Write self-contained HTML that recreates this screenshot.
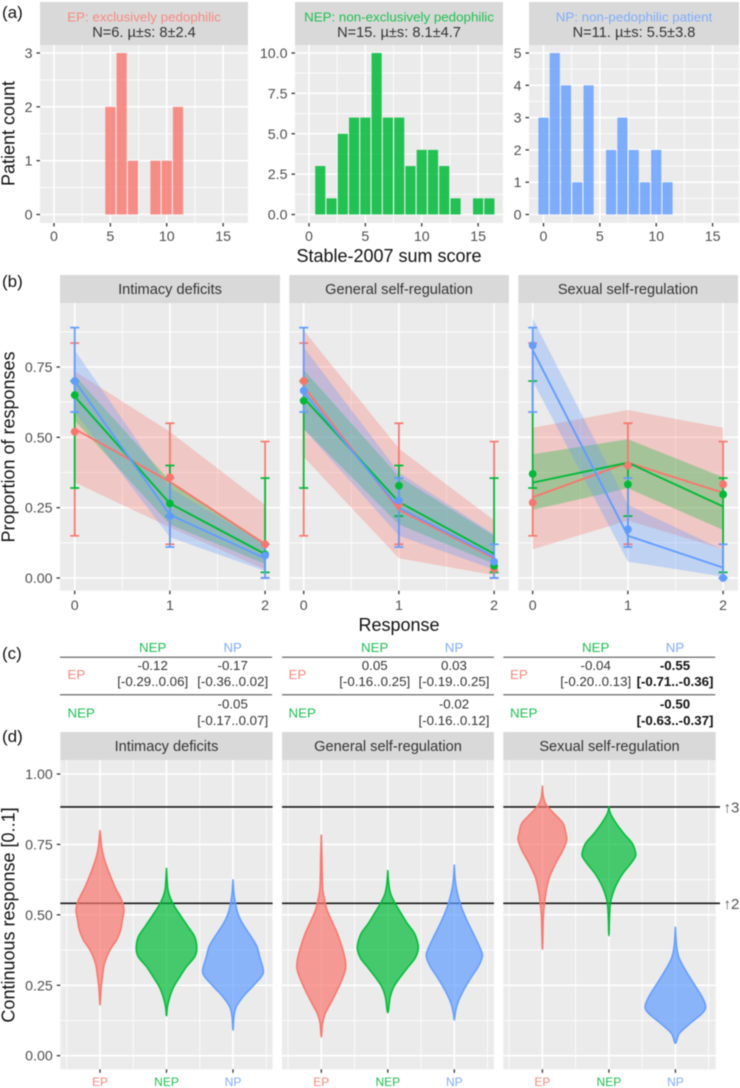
<!DOCTYPE html>
<html lang="en">
<head>
<meta charset="utf-8">
<title>Stable-2007 responses by patient group</title>
<style>
html,body{margin:0;padding:0;background:#fff;}
#figure{display:block;width:740px;height:1088px;filter:blur(.45px);font-family:"Liberation Sans",sans-serif;}
.lab{font-size:17px;fill:#111;}
.title{font-size:18px;fill:#111;}
.strip{fill:#D9D9D9;}
.st{font-size:14.6px;fill:#333;text-anchor:middle;}
.sc{font-size:13.35px;text-anchor:middle;}
.tb{font-size:13.3px;fill:#333;text-anchor:middle;}
.tbb{font-size:13.3px;fill:#111;font-weight:bold;text-anchor:middle;}
.gl{font-size:13.3px;}
.rule{stroke:#444;stroke-width:1;}
</style>
</head>
<body>
<svg id="figure" xmlns="http://www.w3.org/2000/svg" width="740" height="1088" viewBox="0 0 740 1088">
<rect width="740" height="1088" fill="#fff"/>

<text class="lab" x="2" y="18">(a)</text>
<text class="lab" x="2" y="287">(b)</text>
<text class="lab" x="2" y="659">(c)</text>
<text class="lab" x="2" y="742">(d)</text>

<rect class="strip" x="40" y="2" width="208" height="43"/>
<rect class="strip" x="295" y="2" width="208" height="43"/>
<rect class="strip" x="529" y="2" width="210" height="43"/>
<text class="sc" x="144" y="21.5" style="fill:#F98880">EP: exclusively pedophilic</text>
<text class="st" x="144" y="37">N=6. µ±s: 8±2.4</text>
<text class="sc" x="399" y="21.5" style="fill:#1EBF50">NEP: non-exclusively pedophilic</text>
<text class="st" x="399" y="37">N=15. µ±s: 8.1±4.7</text>
<text class="sc" x="634" y="21.5" style="fill:#7FADFC">NP: non-pedophilic patient</text>
<text class="st" x="634" y="37">N=11. µ±s: 5.5±3.8</text>

<rect class="strip" x="60" y="275" width="220" height="28"/>
<rect class="strip" x="289.3" y="275" width="219.7" height="28"/>
<rect class="strip" x="518.3" y="275" width="219.7" height="28"/>
<text class="st" x="170" y="294">Intimacy deficits</text>
<text class="st" x="399" y="294">General self-regulation</text>
<text class="st" x="628" y="294">Sexual self-regulation</text>

<rect class="strip" x="60.3" y="732" width="212.3" height="28"/>
<rect class="strip" x="282" y="732" width="212" height="28"/>
<rect class="strip" x="503.3" y="732" width="212.4" height="28"/>
<text class="st" x="166.5" y="751">Intimacy deficits</text>
<text class="st" x="388" y="751">General self-regulation</text>
<text class="st" x="609.5" y="751">Sexual self-regulation</text>

<g id="plots"></g>

<text class="title" x="389" y="262" text-anchor="middle">Stable-2007 sum score</text>
<text class="title" x="399" y="631" text-anchor="middle">Response</text>
<text class="title" transform="translate(14.5,133.5) rotate(-90)" text-anchor="middle">Patient count</text>
<text class="title" transform="translate(14.5,447) rotate(-90)" text-anchor="middle">Proportion of responses</text>
<text class="title" transform="translate(14.5,915) rotate(-90)" text-anchor="middle">Continuous response [0..1]</text>

<g>
<text class="gl" x="152.7" y="652" text-anchor="middle" fill="#1EBF50">NEP</text>
<text class="gl" x="232.7" y="652" text-anchor="middle" fill="#7FADFC">NP</text>
<line class="rule" x1="60" x2="272" y1="657.3" y2="657.3"/>
<line class="rule" x1="60" x2="272" y1="694.7" y2="694.7"/>
<text class="gl" x="67.5" y="679" fill="#F98880">EP</text>
<text class="gl" x="67.5" y="717.5" fill="#1EBF50">NEP</text>
<text class="tb" x="152.7" y="670">-0.12</text>
<text class="tb" x="152.7" y="686">[-0.29..0.06]</text>
<text class="tb" x="232.7" y="670">-0.17</text>
<text class="tb" x="232.7" y="686">[-0.36..0.02]</text>
<text class="tb" x="232.7" y="708.5">-0.05</text>
<text class="tb" x="232.7" y="725">[-0.17..0.07]</text>
</g>
<g>
<text class="gl" x="374.7" y="652" text-anchor="middle" fill="#1EBF50">NEP</text>
<text class="gl" x="454" y="652" text-anchor="middle" fill="#7FADFC">NP</text>
<line class="rule" x1="282" x2="494" y1="657.3" y2="657.3"/>
<line class="rule" x1="282" x2="494" y1="694.7" y2="694.7"/>
<text class="gl" x="288.5" y="679" fill="#F98880">EP</text>
<text class="gl" x="288.5" y="717.5" fill="#1EBF50">NEP</text>
<text class="tb" x="374.7" y="670">0.05</text>
<text class="tb" x="374.7" y="686">[-0.16..0.25]</text>
<text class="tb" x="454" y="670">0.03</text>
<text class="tb" x="454" y="686">[-0.19..0.25]</text>
<text class="tb" x="454" y="708.5">-0.02</text>
<text class="tb" x="454" y="725">[-0.16..0.12]</text>
</g>
<g>
<text class="gl" x="595.7" y="652" text-anchor="middle" fill="#1EBF50">NEP</text>
<text class="gl" x="675" y="652" text-anchor="middle" fill="#7FADFC">NP</text>
<line class="rule" x1="503.3" x2="715.3" y1="657.3" y2="657.3"/>
<line class="rule" x1="503.3" x2="715.3" y1="694.7" y2="694.7"/>
<text class="gl" x="510" y="679" fill="#F98880">EP</text>
<text class="gl" x="510" y="717.5" fill="#1EBF50">NEP</text>
<text class="tb" x="595.7" y="670">-0.04</text>
<text class="tb" x="595.7" y="686">[-0.20..0.13]</text>
<text class="tbb" x="675" y="670">-0.55</text>
<text class="tbb" x="675" y="686">[-0.71..-0.36]</text>
<text class="tbb" x="675" y="708.5">-0.50</text>
<text class="tbb" x="675" y="725">[-0.63..-0.37]</text>
</g>
</svg>

<script>
/* ---------- (a) histograms ---------- */
const histBins = [0,1,2,3,4,5,6,7,8,9,10,11,12,13,14,15,16];
const histEP  = [0,0,0,0,0,2,3,1,0,1,1,2,0,0,0,0,0];
const histNEP = [0,3,1,5,6,6,10,6,6,3,4,4,3,1,0,1,1];
const histNP  = [3,5,4,1,4,0,2,3,2,1,2,1,0,0,0,0,0];
const histXTicks = [0,5,10,15];
const histYTicksEP = [0,1,2,3];
const histYLabelsEP = ['0','1','2','3'];
const histYTicksNEP = [0,2.5,5,7.5,10];
const histYLabelsNEP = ['0.0','2.5','5.0','7.5','10.0'];
const histYTicksNP = [0,1,2,3,4,5];
const histYLabelsNP = ['0','1','2','3','4','5'];

/* ---------- (b) proportion of responses ---------- */
const responseLevels = [0,1,2];
const propYTicks = [0,0.25,0.5,0.75];
const propYLabels = ['0.00','0.25','0.50','0.75'];
const errLowEP  = [0.15,0.12,0];      const errHighEP  = [0.835,0.55,0.485];
const errLowNEP = [0.32,0.22,0.02];   const errHighNEP = [0.70,0.40,0.355];
const errLowNP  = [0.59,0.11,0];      const errHighNP  = [0.89,0.355,0.12];

const intimacyPointsEP  = [0.52,0.358,0.12];  const intimacyLineEP  = [0.53,0.342,0.12];
const intimacyUpperEP   = [0.735,0.52,0.26];  const intimacyLowerEP  = [0.34,0.18,0.03];
const intimacyPointsNEP = [0.65,0.265,0.084]; const intimacyLineNEP = [0.645,0.265,0.085];
const intimacyUpperNEP  = [0.72,0.345,0.125]; const intimacyLowerNEP = [0.56,0.19,0.05];
const intimacyPointsNP  = [0.70,0.22,0.08];   const intimacyLineNP  = [0.70,0.225,0.07];
const intimacyUpperNP   = [0.81,0.32,0.12];   const intimacyLowerNP  = [0.59,0.145,0.025];

const generalPointsEP  = [0.70,0.262,0.032];  const generalLineEP  = [0.68,0.242,0.07];
const generalUpperEP   = [0.88,0.46,0.205];   const generalLowerEP  = [0.43,0.07,0.01];
const generalPointsNEP = [0.63,0.328,0.043];  const generalLineNEP = [0.64,0.27,0.086];
const generalUpperNEP  = [0.74,0.36,0.15];    const generalLowerNEP = [0.53,0.19,0.05];
const generalPointsNP  = [0.666,0.275,0.058]; const generalLineNP  = [0.66,0.25,0.075];
const generalUpperNP   = [0.82,0.375,0.155];  const generalLowerNP  = [0.53,0.15,0.03];

const sexualPointsEP  = [0.268,0.40,0.333];   const sexualLineEP  = [0.287,0.41,0.303];
const sexualUpperEP   = [0.534,0.597,0.534];  const sexualLowerEP  = [0.102,0.204,0.102];
const sexualPointsNEP = [0.37,0.333,0.297];   const sexualLineNEP = [0.339,0.41,0.254];
const sexualUpperNEP  = [0.44,0.493,0.358];   const sexualLowerNEP = [0.242,0.319,0.171];
const sexualPointsNP  = [0.827,0.173,0];      const sexualLineNP  = [0.81,0.15,0.037];
const sexualUpperNP   = [0.923,0.26,0.10];    const sexualLowerNP  = [0.70,0.058,0.005];

/* ---------- (d) violins ---------- */
const violinYTicks = [0,0.25,0.5,0.75,1];
const violinYLabels = ['0.00','0.25','0.50','0.75','1.00'];
const violinCategories = ['EP','NEP','NP'];
const thresholds = [0.883,0.541];
const thresholdLabels = ['↑3','↑2'];

const intimacyVioValuesEP = [.799,.766,.730,.695,.647,.600,.564,.541,.515,.482,.446,.411,.375,.328,.280,.233,.180];
const intimacyVioDensityEP = [0,.03,.07,.15,.31,.49,.66,.75,.79,.74,.68,.55,.33,.15,.08,.03,0];
const intimacyVioValuesNEP = [.665,.624,.588,.559,.529,.493,.458,.422,.381,.351,.316,.280,.245,.209,.174,.142];
const intimacyVioDensityNEP = [0,.02,.05,.13,.27,.49,.71,.93,1,.93,.66,.44,.24,.11,.03,0];
const intimacyVioValuesNP = [.624,.576,.541,.505,.470,.422,.387,.351,.304,.280,.245,.209,.174,.138,.091];
const intimacyVioDensityNP = [0,.03,.08,.16,.31,.60,.79,.88,1,.93,.64,.33,.11,.03,0];

const generalVioValuesEP = [.783,.706,.636,.588,.553,.517,.482,.434,.387,.340,.307,.269,.233,.186,.150,.115,.067];
const generalVioDensityEP = [0,.02,.03,.05,.11,.19,.33,.53,.68,.79,.80,.68,.53,.31,.13,.04,0];
const generalVioValuesNEP = [.657,.612,.576,.541,.505,.470,.434,.399,.375,.346,.316,.280,.245,.209,.153];
const generalVioDensityNEP = [0,.03,.09,.24,.44,.64,.88,.99,1,.90,.68,.42,.20,.08,0];
const generalVioValuesNP = [.677,.624,.588,.553,.517,.470,.422,.375,.351,.316,.280,.233,.186,.150,.127];
const generalVioDensityNP = [0,.03,.08,.16,.27,.46,.68,.88,.92,.79,.57,.31,.11,.03,0];

const sexualVioValuesEP = [.957,.920,.890,.860,.825,.789,.766,.730,.683,.636,.588,.541,.493,.378];
const sexualVioDensityEP = [0,.03,.13,.38,.68,.77,.80,.68,.44,.24,.13,.07,.03,0];
const sexualVioValuesNEP = [.884,.860,.825,.789,.754,.730,.709,.683,.647,.612,.576,.541,.493,.426];
const sexualVioDensityNEP = [0,.05,.24,.49,.77,.86,.88,.73,.46,.27,.13,.05,.02,0];
const sexualVioValuesNP = [.456,.399,.351,.304,.257,.209,.174,.150,.115,.079,.044];
const sexualVioDensityNP = [0,.03,.11,.33,.60,.88,1,.88,.49,.13,0];

/* ---------- drawing ---------- */
const NS = 'http://www.w3.org/2000/svg';
const root = document.getElementById('plots');
const COLORS = {EP:'#F8766D', NEP:'#00BA38', NP:'#619CFF'};
const LABEL_COLORS = {EP:'#F98880', NEP:'#1EBF50', NP:'#7FADFC'};
const TICK_FONT = 14.2;

function node(tag, attrs, parent) {
  const n = document.createElementNS(NS, tag);
  for (const k in attrs) n.setAttribute(k, attrs[k]);
  parent.appendChild(n);
  return n;
}
function linear(d0, d1, r0, r1) {
  return v => r0 + (v - d0) * (r1 - r0) / (d1 - d0);
}
function midpoints(t) {
  const out = [];
  for (let i = 0; i + 1 < t.length; i++) out.push((t[i] + t[i + 1]) / 2);
  return out;
}
function panelFrame(name, box, xs, ys, xMajor, xMinor, yMajor, yMinor) {
  const g = node('g', {}, root);
  
  
  const bg = node('rect', {x: box.x0, y: box.y0, width: box.x1 - box.x0, height: box.y1 - box.y0, fill: '#EBEBEB'}, g);
  
  
  yMinor.forEach(v => {
    const l = node('line', {x1: box.x0, x2: box.x1, y1: ys(v), y2: ys(v), stroke: '#fff', 'stroke-width': 0.8}, g);
    
    
  });
  xMinor.forEach(v => {
    const l = node('line', {x1: xs(v), x2: xs(v), y1: box.y0, y2: box.y1, stroke: '#fff', 'stroke-width': 0.8}, g);
    
    
  });
  yMajor.forEach(v => {
    const l = node('line', {x1: box.x0, x2: box.x1, y1: ys(v), y2: ys(v), stroke: '#fff', 'stroke-width': 1.6}, g);
    
    
  });
  xMajor.forEach(v => {
    const l = node('line', {x1: xs(v), x2: xs(v), y1: box.y0, y2: box.y1, stroke: '#fff', 'stroke-width': 1.6}, g);
    
    
  });
  return g;
}
function xAxis(g, box, xs, ticks, labels, labelY, size, colors) {
  ticks.forEach((v, i) => {
    const t = node('line', {x1: xs(v), x2: xs(v), y1: box.y1, y2: box.y1 + 3.5, stroke: '#333', 'stroke-width': 1.3}, g);
    
    
    const s = node('text', {x: xs(v), y: labelY, 'text-anchor': 'middle', 'font-size': size, fill: colors ? colors[i] : '#4D4D4D'}, g);
    
    
    s.textContent = labels[i];
  });
}
function yAxis(g, box, ys, ticks, labels) {
  ticks.forEach((v, i) => {
    const t = node('line', {x1: box.x0 - 3.5, x2: box.x0, y1: ys(v), y2: ys(v), stroke: '#333', 'stroke-width': 1.3}, g);
    
    
    const s = node('text', {x: box.x0 - 7.5, y: ys(v) + 5, 'text-anchor': 'end', 'font-size': TICK_FONT, fill: '#4D4D4D'}, g);
    
    
    s.textContent = labels[i];
  });
}

/* histograms */
function drawHistogram(key, counts, x0Px, box, yTicks, yLabels) {
  const xs = linear(0, 15, x0Px, x0Px + 169.1);
  const ys = linear(0, yTicks[yTicks.length - 1], 214.5, 53);
  const g = panelFrame('histogram-' + key.toLowerCase(), box, xs, ys, histXTicks, midpoints(histXTicks), yTicks, midpoints(yTicks));
  counts.forEach((c, i) => {
    if (!c) return;
    const b = histBins[i];
    const bar = node('rect', {x: xs(b - 0.45), width: xs(b + 0.45) - xs(b - 0.45), y: ys(c), height: ys(0) - ys(c),
      fill: COLORS[key], 'fill-opacity': key === 'NEP' ? 0.85 : 0.8}, g);
    
    
  });
  xAxis(g, box, xs, histXTicks, histXTicks.map(String), 241, TICK_FONT);
  yAxis(g, box, ys, yTicks, yLabels);
}
drawHistogram('EP', histEP, 54, {x0: 40, x1: 248, y0: 45, y1: 223}, histYTicksEP, histYLabelsEP);
drawHistogram('NEP', histNEP, 309, {x0: 295, x1: 503, y0: 45, y1: 223}, histYTicksNEP, histYLabelsNEP);
drawHistogram('NP', histNP, 543.5, {x0: 529, x1: 739, y0: 45, y1: 223}, histYTicksNP, histYLabelsNP);

/* response proportions */
function drawProportion(key, box, x0Px, withY, series) {
  const xs = linear(0, 2, x0Px, x0Px + 190.4);
  const ys = linear(0, 0.75, 578, 367);
  const yMinor = midpoints(propYTicks).concat([0.875]);
  const g = panelFrame('proportion-' + key, box, xs, ys, responseLevels, midpoints(responseLevels), propYTicks, yMinor);
  const groups = ['EP', 'NEP', 'NP'];
  groups.forEach(k => {
    const s = series[k];
    const top = responseLevels.map((r, i) => xs(r) + ',' + ys(s.upper[i]));
    const bot = responseLevels.map((r, i) => xs(r) + ',' + ys(s.lower[i])).reverse();
    const rb = node('polygon', {points: top.concat(bot).join(' '), fill: COLORS[k], 'fill-opacity': 0.31}, g);
    
    
  });
  groups.forEach(k => {
    const s = series[k];
    responseLevels.forEach((r, i) => {
      const x = xs(r);
      const yl = ys(s.errLow[i]), yh = ys(s.errHigh[i]);
      const eb = node('path', {d: 'M' + (x - 4.5) + ' ' + yh + 'H' + (x + 4.5) + 'M' + x + ' ' + yh + 'V' + yl + 'M' + (x - 4.5) + ' ' + yl + 'H' + (x + 4.5),
        fill: 'none', stroke: COLORS[k], 'stroke-width': 1.7}, g);
      
      
    });
  });
  groups.forEach(k => {
    const s = series[k];
    const ln = node('polyline', {points: responseLevels.map((r, i) => xs(r) + ',' + ys(s.line[i])).join(' '),
      fill: 'none', stroke: COLORS[k], 'stroke-width': 1.9}, g);
    
    
  });
  groups.forEach(k => {
    const s = series[k];
    responseLevels.forEach((r, i) => {
      const p = node('circle', {cx: xs(r), cy: ys(s.points[i]), r: 3.9, fill: COLORS[k]}, g);
      
      
    });
  });
  xAxis(g, box, xs, responseLevels, responseLevels.map(String), 610, TICK_FONT);
  if (withY) yAxis(g, box, ys, propYTicks, propYLabels);
}
const errs = {
  EP: {errLow: errLowEP, errHigh: errHighEP},
  NEP: {errLow: errLowNEP, errHigh: errHighNEP},
  NP: {errLow: errLowNP, errHigh: errHighNP}
};
function bundle(k, points, line, upper, lower) {
  return {points: points, line: line, upper: upper, lower: lower, errLow: errs[k].errLow, errHigh: errs[k].errHigh};
}
drawProportion('intimacy', {x0: 60, x1: 280, y0: 303, y1: 590.7}, 74.7, true, {
  EP: bundle('EP', intimacyPointsEP, intimacyLineEP, intimacyUpperEP, intimacyLowerEP),
  NEP: bundle('NEP', intimacyPointsNEP, intimacyLineNEP, intimacyUpperNEP, intimacyLowerNEP),
  NP: bundle('NP', intimacyPointsNP, intimacyLineNP, intimacyUpperNP, intimacyLowerNP)
});
drawProportion('general', {x0: 289.3, x1: 509, y0: 303, y1: 590.7}, 303.7, false, {
  EP: bundle('EP', generalPointsEP, generalLineEP, generalUpperEP, generalLowerEP),
  NEP: bundle('NEP', generalPointsNEP, generalLineNEP, generalUpperNEP, generalLowerNEP),
  NP: bundle('NP', generalPointsNP, generalLineNP, generalUpperNP, generalLowerNP)
});
drawProportion('sexual', {x0: 518.3, x1: 738, y0: 303, y1: 590.7}, 532.7, false, {
  EP: bundle('EP', sexualPointsEP, sexualLineEP, sexualUpperEP, sexualLowerEP),
  NEP: bundle('NEP', sexualPointsNEP, sexualLineNEP, sexualUpperNEP, sexualLowerNEP),
  NP: bundle('NP', sexualPointsNP, sexualLineNP, sexualUpperNP, sexualLowerNP)
});

/* violins */
function smoothPath(pts) {
  let d = 'M' + pts[0][0] + ' ' + pts[0][1];
  for (let i = 0; i < pts.length - 1; i++) {
    const p0 = pts[Math.max(i - 1, 0)], p1 = pts[i], p2 = pts[i + 1], p3 = pts[Math.min(i + 2, pts.length - 1)];
    d += 'C' + (p1[0] + (p2[0] - p0[0]) / 6) + ' ' + (p1[1] + (p2[1] - p0[1]) / 6) + ' ' +
         (p2[0] - (p3[0] - p1[0]) / 6) + ' ' + (p2[1] - (p3[1] - p1[1]) / 6) + ' ' + p2[0] + ' ' + p2[1];
  }
  return d;
}
function drawViolinPanel(key, box, x0Px, withY, lineEnd, sets) {
  const xs = linear(0, 2, x0Px, x0Px + 133);
  const ys = linear(0, 1, 1055.7, 774);
  const dens = linear(0, 1, 0, 30.3);
  const idx = [0, 1, 2];
  const g = panelFrame('violin-' + key, box, xs, ys, idx, [-0.5, 0.5, 1.5, 2.5], violinYTicks, midpoints(violinYTicks));
  thresholds.forEach((t, i) => {
    const l = node('line', {x1: box.x0, x2: lineEnd, y1: ys(t), y2: ys(t), stroke: '#1a1a1a', 'stroke-width': 1.6}, g);
    
    
    if (lineEnd > box.x1) {
      const s = node('text', {x: lineEnd + 3.5, y: ys(t) + 5.5, 'font-size': 15, fill: '#555'}, g);
      
      
      s.textContent = thresholdLabels[i];
    }
  });
  violinCategories.forEach((c, i) => {
    const vals = sets[i][0], den = sets[i][1], cx = xs(i);
    const right = vals.map((v, j) => [cx + dens(den[j]), ys(v)]);
    const left = vals.map((v, j) => [cx - dens(den[j]), ys(v)]).reverse();
    const d = smoothPath(right.concat(left.slice(1))) + 'Z';
    const vio = node('path', {d: d, fill: COLORS[c], 'fill-opacity': 0.7, stroke: COLORS[c], 'stroke-width': 1.6, 'stroke-opacity': 0.95, 'stroke-linejoin': 'round'}, g);
    
    
  });
  xAxis(g, box, xs, idx, violinCategories, 1086, 12, violinCategories.map(c => LABEL_COLORS[c]));
  if (withY) yAxis(g, box, ys, violinYTicks, violinYLabels);
}
drawViolinPanel('intimacy', {x0: 60.3, x1: 272.6, y0: 760, y1: 1069.3}, 100, true, 272.6, [
  [intimacyVioValuesEP, intimacyVioDensityEP], [intimacyVioValuesNEP, intimacyVioDensityNEP], [intimacyVioValuesNP, intimacyVioDensityNP]
]);
drawViolinPanel('general', {x0: 282, x1: 494, y0: 760, y1: 1069.3}, 321.3, false, 494, [
  [generalVioValuesEP, generalVioDensityEP], [generalVioValuesNEP, generalVioDensityNEP], [generalVioValuesNP, generalVioDensityNP]
]);
drawViolinPanel('sexual', {x0: 503.3, x1: 715.7, y0: 760, y1: 1069.3}, 542.4, false, 720, [
  [sexualVioValuesEP, sexualVioDensityEP], [sexualVioValuesNEP, sexualVioDensityNEP], [sexualVioValuesNP, sexualVioDensityNP]
]);
</script>
</body>
</html>
